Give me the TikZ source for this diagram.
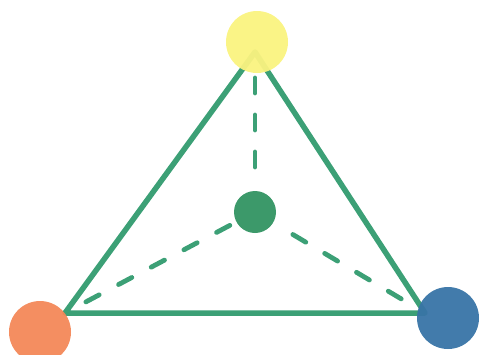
\documentclass[tikz,border=0pt]{standalone}
\usepackage{xcolor}
\usepackage{tikz}
\usetikzlibrary{backgrounds,calc}
\definecolor{edgegreen}{RGB}{60,160,118}
\definecolor{hubgreen}{RGB}{50,148,98}
\definecolor{sunyellow}{RGB}{250,243,128}
\definecolor{peachorange}{RGB}{243,136,88}
\definecolor{seablue}{RGB}{56,116,166}

\begin{document}
\begin{tikzpicture}[
        x=1pt,y=-1pt,
        dot/.style={circle,draw=none,minimum size=62pt,inner sep=0pt,opacity=0.95},
        hub/.style={circle,fill=hubgreen,draw=none,minimum size=42pt,inner sep=0pt,opacity=0.95},
        side/.style={draw=edgegreen,line width=5.5pt,line cap=round,line join=round},
        spoke/.style={draw=edgegreen,line width=4.8pt,line cap=round,
                      dash pattern=on 15pt off 22pt}
    ]
        \clip (0,0) rectangle (480,354);
        \node[dot,fill=sunyellow] (top) at (257,42) {};
        \node[dot,fill=peachorange] (left) at (40,332) {};
        \node[dot,fill=seablue] (right) at (448,318) {};
        \node[hub] (mid) at (255,212) {};
        \coordinate (vt) at (255,52);
        \coordinate (vl) at (65,313);
        \coordinate (vr) at (425,313);
        \begin{scope}[on background layer]
        \draw[side] (vl) -- (vt) -- (vr) -- cycle;
        \draw[spoke,shorten >=6pt] ([yshift=-26pt]vt) -- (mid);
        \draw[spoke,shorten >=6pt] ($(vl)!0.11!(mid)$) -- (mid);
        \draw[spoke,shorten >=6pt] ($(vr)!0.14!(mid)$) -- (mid);
        \end{scope}
    \end{tikzpicture}
\end{document}
